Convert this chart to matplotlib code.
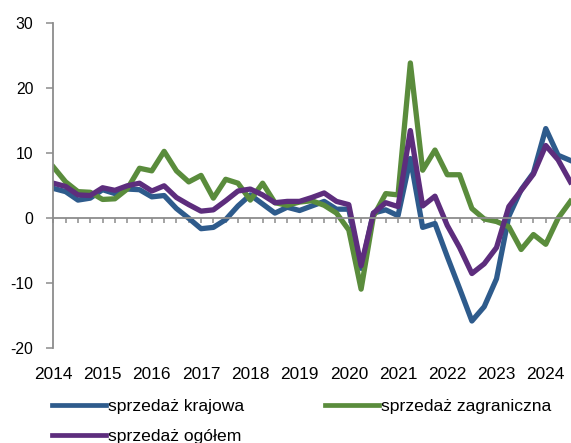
import matplotlib
matplotlib.use('Agg')
import matplotlib.pyplot as plt

# quarterly data, 2014Q1 - 2024Q3, % y/y
years = ['2014', '2015', '2016', '2017', '2018', '2019', '2020', '2021', '2022', '2023', '2024']

krajowa = [4.6, 4.1, 2.8, 3.1, 4.4, 3.8, 4.5, 4.4, 3.3, 3.5,
           1.5, 0.0, -1.6, -1.4, -0.2, 1.9, 3.6, 2.2, 0.8, 1.7,
           1.2, 1.9, 2.6, 1.4, 1.4, -7.7, 0.8, 1.3, 0.4, 9.2,
           -1.4, -0.8, -5.9, -10.8, -15.8, -13.6, -9.3, 0.3, 4.4, 7.0,
           13.8, 9.7, 8.9]
zagraniczna = [7.9, 5.6, 4.1, 4.0, 2.9, 3.0, 4.5, 7.7, 7.3, 10.3,
               7.3, 5.6, 6.6, 3.1, 6.0, 5.4, 2.8, 5.4, 2.4, 2.0,
               2.5, 2.7, 2.0, 0.8, -1.8, -10.9, 0.3, 3.8, 3.6, 23.9,
               7.4, 10.5, 6.7, 6.7, 1.5, -0.1, -0.5, -1.3, -4.8, -2.5,
               -4.0, 0.0, 2.6]
ogolem = [5.4, 4.9, 3.6, 3.5, 4.7, 4.3, 5.0, 5.4, 4.2, 5.0,
          3.2, 2.1, 1.1, 1.3, 2.7, 4.2, 4.5, 3.6, 2.4, 2.6,
          2.6, 3.2, 3.9, 2.6, 2.1, -7.3, 0.8, 2.4, 1.8, 13.5,
          1.9, 3.4, -1.1, -4.5, -8.5, -7.0, -4.5, 1.8, 4.3, 6.8,
          11.2, 9.0, 5.6]

plt.rcParams['font.family'] = ['Liberation Sans', 'DejaVu Sans']
plt.rcParams['axes.unicode_minus'] = False

blue = '#2e5b8c'
green = '#5a8c3c'
purple = '#5d2d7d'
gray = '#8c8c8c'

q = list(range(len(krajowa)))

fig = plt.figure(figsize=(5.71, 4.43), dpi=100)
ax = fig.add_axes([0.0934, 0.2138, 0.9066, 0.7336])

l1, = ax.plot(q, krajowa, color=blue, lw=3.8, label='sprzedaż krajowa')
l2, = ax.plot(q, zagraniczna, color=green, lw=3.8, label='sprzedaż zagraniczna')
l3, = ax.plot(q, ogolem, color=purple, lw=3.8, label='sprzedaż ogółem')

ax.set_xlim(0, len(q) - 1 + 0.05)
ax.set_ylim(-20, 30)
ax.set_yticks([-20, -10, 0, 10, 20, 30])

for s in ['top', 'right']:
    ax.spines[s].set_visible(False)
ax.spines['left'].set_color(gray)
ax.spines['left'].set_linewidth(1.3)
ax.spines['bottom'].set_position(('data', 0))
ax.spines['bottom'].set_color(gray)
ax.spines['bottom'].set_linewidth(1.3)

ax.set_xticks(q, minor=True)
ax.set_xticks(range(0, len(q), 4))
ax.set_xticklabels(years)
ax.tick_params(axis='x', which='both', direction='out', length=3.8, width=1.1,
               color=gray)
ax.tick_params(axis='x', which='major', pad=103, labelsize=12.4)
ax.tick_params(axis='y', direction='out', length=4.8, width=1.1, color=gray,
               pad=9.6, labelsize=11.3)

leg = fig.legend([l1, l3, l2], [l1.get_label(), l3.get_label(), l2.get_label()],
                 ncol=2, loc='upper left', bbox_to_anchor=(52 / 571, 1 - 399 / 443),
                 frameon=False, fontsize=12.6, handlelength=3.1, handletextpad=0.12,
                 columnspacing=4.6, labelspacing=0.85, borderpad=0, borderaxespad=0)
for h in leg.get_lines():
    h.set_linewidth(3.4)

fig.savefig('out.png', dpi=100)
